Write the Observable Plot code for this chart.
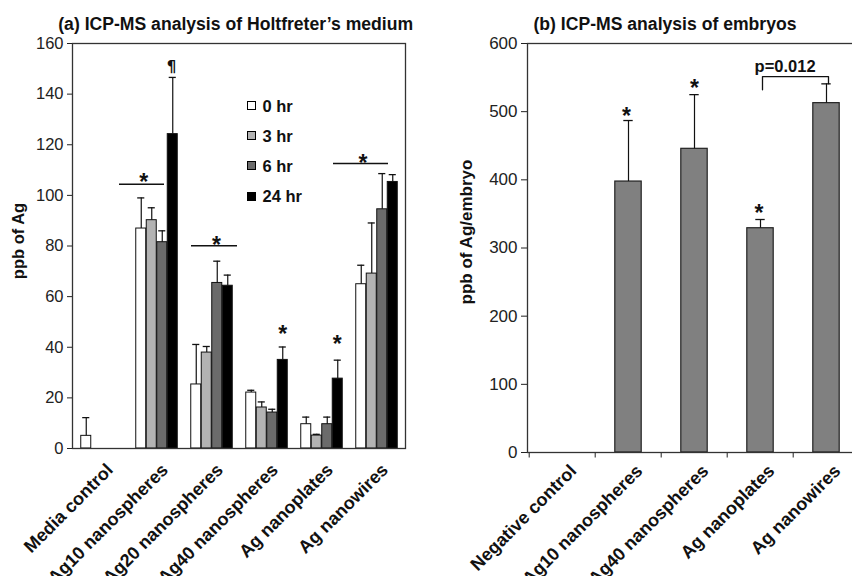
<!DOCTYPE html>
<html><head><meta charset="utf-8">
<script src="https://cdn.jsdelivr.net/npm/d3@7"></script>
<script src="https://cdn.jsdelivr.net/npm/@observablehq/plot@0.6"></script>
<style>
html,body{margin:0;padding:0;overflow:hidden;background:#fff;}
#wrap{position:relative;width:852px;height:576px;overflow:hidden;font-family:"Liberation Sans",Arial,sans-serif;color:#111;}
.panel{position:absolute;top:0;}
.panel svg{max-width:none !important;}
.title{position:absolute;top:14px;font-weight:bold;font-size:17.6px;line-height:20px;white-space:nowrap;transform:translateX(-50%);}
.ylab{position:absolute;font-weight:bold;white-space:nowrap;line-height:20px;transform:translate(-50%,-50%) rotate(-90deg);}
.leg{position:absolute;left:246.5px;display:flex;align-items:center;font-weight:bold;font-size:16.5px;height:20px;line-height:20px;}
.sw{width:9px;height:9px;box-sizing:border-box;border:1px solid #000;margin-right:7px;}
</style></head>
<body><div id="wrap"></div>
<script>
// ---------- (a) Holtfreter's medium ----------
const groupsA = ["Media control", "Ag10 nanospheres", "Ag20 nanospheres", "Ag40 nanospheres", "Ag nanoplates", "Ag nanowires"];
const seriesA = ["0 hr", "3 hr", "6 hr", "24 hr"];
const mean0hr  = [5.0, 86.9, 25.3, 22.1, 9.6, 64.9];
const mean3hr  = [null, 90.2, 37.9, 16.2, 5.1, 69.1];
const mean6hr  = [null, 81.5, 65.4, 14.2, 9.6, 94.5];
const mean24hr = [null, 124.2, 64.3, 35.0, 27.6, 105.3];
const err0hr   = [7.2, 12.1, 15.8, 0.9, 2.8, 7.5];
const err3hr   = [null, 4.9, 2.4, 2.2, 0.5, 20.0];
const err6hr   = [null, 4.5, 8.6, 1.3, 2.8, 14.1];
const err24hr  = [null, 22.4, 4.2, 5.1, 7.3, 2.9];
const yTicksA  = [0, 20, 40, 60, 80, 100, 120, 140, 160];
const sigLineA = [104.4, 80.1, 112.6];             // Ag10, Ag20, Ag nanowires
const starA    = [107.3, 82.6, 47.5, 43.2, 114.8]; // Ag10, Ag20, Ag40, nanoplates, nanowires
const pilcrowA = 150.8;

// ---------- (b) embryos ----------
const groupsB = ["Negative control", "Ag10 nanospheres", "Ag40 nanospheres", "Ag nanoplates", "Ag nanowires"];
const meanB   = [null, 397.5, 445.5, 329.0, 512.5];
const errB    = [null, 89.5, 79.5, 12.8, 28.3];
const yTicksB = [0, 100, 200, 300, 400, 500, 600];
const starB   = [501.7, 542.8, 358.4];   // Ag10, Ag40, nanoplates
const bracketB = [532, 551.5, 551.5, 541];
const pLabel = "p=0.012";
const pValueY = 566;

const font = '"Liberation Sans", Arial, sans-serif';
const meansA = [mean0hr, mean3hr, mean6hr, mean24hr];
const errsA = [err0hr, err3hr, err6hr, err24hr];
const fillA = ["#ffffff", "#b3b3b3", "#6b6b6b", "#000000"];

const rowsA = [];
seriesA.forEach((s, si) => groupsA.forEach((g, gi) => {
  const v = meansA[si][gi];
  if (v != null) rowsA.push({group: g, series: s, si, value: v, hi: v + errsA[si][gi]});
}));

const wA = 430, mlA = 72, mrA = 25;
const bwA = (wA - mlA - mrA) / groupsA.length;
const barA = 10.5, padA = (bwA - barA * seriesA.length) / 2;
const marksA = [];
seriesA.forEach((s, si) => {
  const d = rowsA.filter(r => r.si === si);
  const il = padA + barA * si, ir = bwA - padA - barA * (si + 1);
  const dx = il + barA / 2 - bwA / 2;
  marksA.push(
    Plot.barY(d, {x: "group", y1: 0, y2: "value", insetLeft: il, insetRight: ir, fill: fillA[si], stroke: "#111", strokeWidth: 1}),
    Plot.ruleX(d, {x: "group", y1: "value", y2: "hi", dx, stroke: "#111", strokeWidth: 1.2}),
    Plot.tickY(d, {x: "group", y: "hi", insetLeft: il + barA / 2 - 3.8, insetRight: ir + barA / 2 - 3.8, stroke: "#111", strokeWidth: 1.3})
  );
});

const starMark = (grp, val, dx, fs) => Plot.text([val], {x: () => grp, y: d => d, text: () => "*", dx, dy: 0.255 * fs, fontSize: fs, fontWeight: "bold", fill: "#111", lineAnchor: "middle"});
const sigMark = (grp, val, l, r) => Plot.tickY([val], {x: () => grp, y: d => d, insetLeft: l, insetRight: r, stroke: "#111", strokeWidth: 1.3});

const plotA = Plot.plot({
  width: wA, height: 576, marginLeft: mlA, marginRight: mrA, marginTop: 43, marginBottom: 128,
  x: {domain: groupsA, padding: 0, axis: null},
  y: {domain: [0, 160]},
  style: {fontFamily: font, background: "transparent", overflow: "visible"},
  marks: [
    Plot.axisY({ticks: yTicksA, tickSize: 5, tickPadding: 4, fontSize: 16.5, label: null, color: "#222"}),
    ...marksA,
    Plot.frame({stroke: "#333", strokeWidth: 1.3}),
    sigMark(groupsA[1], sigLineA[0], -10, 20),
    sigMark(groupsA[2], sigLineA[1], 7, 2),
    sigMark(groupsA[5], sigLineA[2], -16, 16),
    starMark(groupsA[1], starA[0], -13.3, 23),
    starMark(groupsA[2], starA[1], 4.5, 23),
    starMark(groupsA[3], starA[2], 15.7, 23),
    starMark(groupsA[4], starA[3], 15.3, 23),
    starMark(groupsA[5], starA[4], -14, 23),
    Plot.text([pilcrowA], {x: () => groupsA[1], y: d => d, text: () => "¶", dx: 14.5, fontSize: 15, fontWeight: "bold", fill: "#111", fontFamily: "DejaVu Sans", lineAnchor: "middle"}),
    Plot.text(groupsA, {x: d => d, text: d => d, frameAnchor: "bottom", rotate: -45, textAnchor: "end", lineAnchor: "middle", dx: 8, dy: 18.5, fontSize: 18, fontWeight: "bold", fill: "#111"})
  ]
});

const rowsB = [];
groupsB.forEach((g, gi) => { if (meanB[gi] != null) rowsB.push({group: g, value: meanB[gi], hi: meanB[gi] + errB[gi]}); });
const wB = 432, mlB = 97, mrB = 2;
const bwB = (wB - mlB - mrB) / groupsB.length;
const barB = 27, insB = (bwB - barB) / 2;

const plotB = Plot.plot({
  width: wB, height: 576, marginLeft: mlB, marginRight: mrB, marginTop: 43, marginBottom: 124,
  x: {domain: groupsB, padding: 0},
  y: {domain: [0, 600]},
  style: {fontFamily: font, background: "transparent"},
  marks: [
    Plot.axisY({ticks: yTicksB, tickSize: 6, tickPadding: 4, fontSize: 17, label: null, color: "#222"}),
    Plot.axisX({tickSize: 5.5, tickFormat: () => "", dx: -bwB / 2, label: null, color: "#222"}),
    Plot.barY(rowsB, {x: "group", y1: 0, y2: "value", insetLeft: insB, insetRight: insB, fill: "#808080", stroke: "#222", strokeWidth: 1.2}),
    Plot.ruleX(rowsB, {x: "group", y1: "value", y2: "hi", stroke: "#111", strokeWidth: 1.2}),
    Plot.tickY(rowsB, {x: "group", y: "hi", insetLeft: bwB / 2 - 5, insetRight: bwB / 2 - 5, stroke: "#111", strokeWidth: 1.3}),
    Plot.frame({stroke: "#333", strokeWidth: 1.3}),
    starMark(groupsB[1], starB[0], -2, 23),
    starMark(groupsB[2], starB[1], 0, 23),
    starMark(groupsB[3], starB[2], -1.5, 23),
    Plot.line(bracketB.map((v, i) => ({group: i < 2 ? groupsB[3] : groupsB[4], value: v})), {x: "group", y: "value", stroke: "#111", strokeWidth: 1.3, strokeLinejoin: "round", dx: 2}),
    Plot.text([pValueY], {x: () => groupsB[3], y: d => d, text: () => pLabel, dx: 24.6, fontSize: 16.5, fontWeight: "bold", fill: "#111", lineAnchor: "middle"}),
    Plot.text(groupsB, {x: d => d, text: d => d, frameAnchor: "bottom", rotate: -45, textAnchor: "end", lineAnchor: "middle", dx: 11, dy: 15.5, fontSize: 18, fontWeight: "bold", fill: "#111"})
  ]
});

const wrap = document.getElementById("wrap");
const pa = document.createElement("div"); pa.className = "panel"; pa.style.left = "0px"; pa.style.width = wA + "px"; pa.appendChild(plotA); wrap.appendChild(pa);
const pb = document.createElement("div"); pb.className = "panel"; pb.style.left = "430px"; pb.style.width = wB + "px"; pb.appendChild(plotB); wrap.appendChild(pb);

function addDiv(cls, text, css) {
  const d = document.createElement("div"); d.className = cls; d.textContent = text;
  Object.assign(d.style, css); wrap.appendChild(d); return d;
}
addDiv("title", "(a) ICP-MS analysis of Holtfreter\u2019s medium", {left: "235.7px"});
addDiv("title", "(b) ICP-MS analysis of embryos", {left: "665px"});
addDiv("ylab", "ppb of Ag", {left: "18px", top: "241px", fontSize: "16.5px"});
addDiv("ylab", "ppb of Ag/embryo", {left: "466.7px", top: "231.5px", fontSize: "17px"});

const legTops = [95.5, 125.5, 155.5, 186];
seriesA.forEach((s, si) => {
  const row = document.createElement("div"); row.className = "leg"; row.style.top = legTops[si] + "px";
  const sw = document.createElement("div"); sw.className = "sw"; sw.style.background = fillA[si];
  const t = document.createElement("span"); t.textContent = s;
  row.appendChild(sw); row.appendChild(t); wrap.appendChild(row);
});
</script>
</body></html>
